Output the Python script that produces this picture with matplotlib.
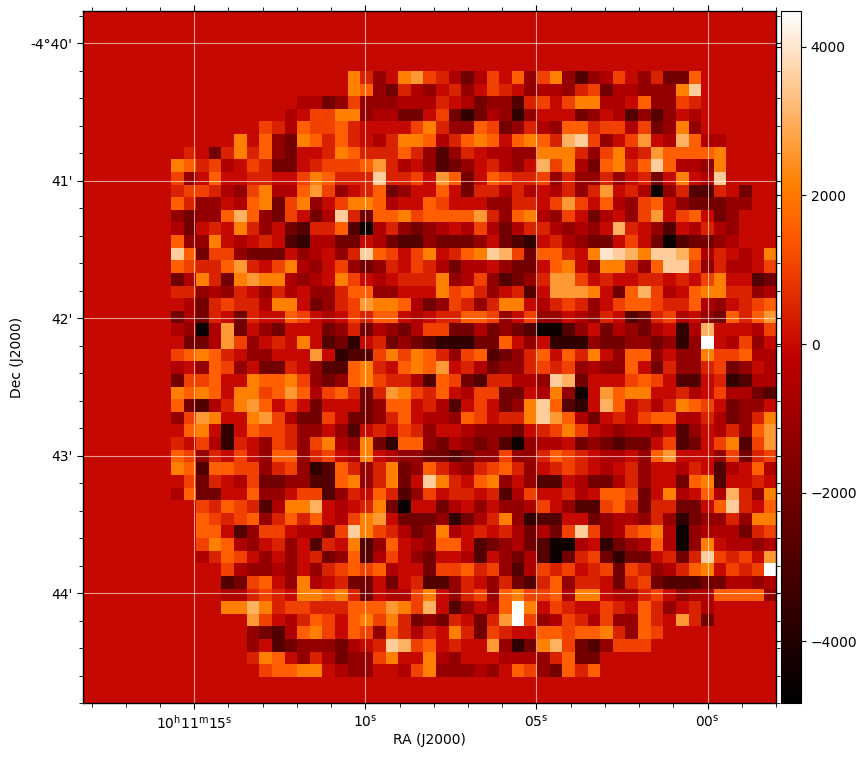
import numpy as np
import matplotlib
matplotlib.use('Agg')
import matplotlib.pyplot as plt
from matplotlib.ticker import MultipleLocator

# flux levels, one letter per map cell
levels = {'a': -4500, 'b': -3600, 'c': -2800, 'd': -2000, 'e': -1200, 'f': -600,
          'g': 0, 'h': 450, 'i': 1000, 'j': 1550, 'k': 2150, 'l': 2600,
          'm': 3050, 'n': 3550, 'o': 4000, 'p': 4450, '.': 0}

# map rows, top to bottom: left half + right half
left_half = [
    '..............khegklihfd', '..............kjedhfeghe', '..........ffdeieeefffhgf',
    '.........fgiikkeffddgidb', '.....ggihfjiijhggggikhee', '.....kgjedkjhjhgfhkkjfhj',
    'ghgdhkhjedgghkjhhhjheceh', 'kjhifgihddghiiijlhfgecde', 'iegjgghhggikjhhhnhhigljd',
    'hiihfeikffjlieghjdeggjgd', 'jheegfjkdikegikkjfggjigg', 'edeejmjedigdfnhdjjkijjjj',
    'fdghgkhegdchhjcafhedefgf', 'jeekgfghgcbffddgfdcceddd', 'njdiiedddgefgehnjigikghj',
    'jihhjlhgikfegiedehgihfdf', 'dfkhdklkkfefgkigfghhhkef', 'hhefehgehfgeehjjeegggkij',
    'gfdhihhfkkgdehilkkjfdeih', 'dfdhgdhggjigfgihjjgfghhj', 'feafldgedgggdehdfedfiidd',
    'gddflieghgkgcdbghdedcbbb', 'ijkjhgeegggl' + 'gbccikikjhei', 'fgejiegddhgeccjkhgjkjlgh',
    'diijggkjjkiedejkihhfcjid', 'kjkjgkkijljfijhdhlkihjgf', 'jdcfhkljgigdgggdejjghfcg',
    'eilkggklifddigddehjgffej', 'gjkgbgjiiheegecghgiheggf', 'hgifbhgeiheikfekdbjjedfe',
    'jiehgigejjehigfkgfeeddcd', 'kjcjjiiehiebcjhehkdejhfe', 'gidhgfiddeeccjkehkdgnkhg',
    'fjddggjeegiicehgjhceighh', '..ihjihcfkkmgfghkdaggdfg', '..jihijehjhjgfiklgdddebd',
    '..jjgceiigffdinkihfdekfg', '..ikjfeghegchgkcejgfejjg', '..fhjigegeghdejcfigedggf',
    '....ifeefegehijijfggdiij', '....cdijgekfghddgdghcceh', '....ffhihgkkjkhdgffikgeh',
    '....kkmkhiihhhjjjlkimgce', '......ligfhjigjkikhdedhg', '......edcfjkigjiejhfhgkh',
    '......egcdeeedfghnmijghg', '......hkjgehfdeeikggkfeg', '......gijjkkgfeeggfikeee',
]
right_half = [
    'figjeikecefigehddj......', 'gihgeffehidffeeekn......', 'deechigikkffgjeeih......',
    'dfebegggdegfcecegf......', 'jidehfejjhiifideke......', 'kjgjkjhmniegilgfmjff....',
    'gffeekkkheikghljjjjk....', 'ghfegmikfdjkhjnjffek....', 'gjihhieheeheghdgkgfn....',
    'hhfhfgfhehlghfaehcchgd..', 'geehhgiligjfeijgedddee..', 'lhejkfeigdfgeilgijgdeg..',
    'ifdfhhfefegmhgecgfhfeg..', 'egdcbghfeddgigdacddefg..', 'knmidjjhgkonmknnmjfhgfgk',
    'fgeddgjkgekkhejnniehffgi', 'iecdehllighgghhghgikggcd', 'heghcglllkgdjmifgjkkhhef',
    'ehkkgfhihegijjihhjfeghij', 'jiegieegfehgcdhifgedjhjl', 'fdedcaacegdfedfgbfmgggfi',
    'ddjgegbbbeddeedebepgfieg', 'jcdehjgjhkgejjegeekiijff', 'fdeehihiefeejgdheehidegf',
    'chhffenmdgggijigccghbcff', 'iiddgfkeagljkkgghfgiffdc', 'igdeknjcbgmjghfhkjigdeeg',
    'ighhknljfdghgijjffhfdehk', 'eeedghikigfeffegcegfhejl', 'decaeffgdedcddgicdgikcil',
    'eeieehjihgffgejlgggeidhi', 'hijheghihgfgheggfhgcfgjf', 'jkegeccgfddfheggdjkcgghg',
    'ghcfigghfgjjidgkfgjfmhek', 'egeefigeccijhdhhddgjnhgj', 'fhkebccggdeffehebdeehekk',
    'hghfdfdiniefijkfaefffdhi', 'cdefdcaafgbdefjfaekgffef', 'cgedfcadhidbddghdhnihigl',
    'hiecfihighidihefhjkgihip', 'gehdchjehhgdhidcccddffef', 'iejkiijfkkgffhigeffjjjje',
    'gfjpkgihggihgjheghf.....', 'dhlpiefihfieejhglhd.....', 'dihggjjijjkheji.........',
    'glebdkmidceiiig.........', 'ggfffehjdd..............', 'fegjiedjhj..............',
]
ra_ticks = [15, 10, 5, 0]
ra_labels = [r'$10^{\mathrm{h}}11^{\mathrm{m}}15^{\mathrm{s}}$', r'$10^{\mathrm{s}}$',
             r'$05^{\mathrm{s}}$', r'$00^{\mathrm{s}}$']
dec_ticks = [40, 41, 42, 43, 44]
dec_labels = ["-4°40'", "41'", "42'", "43'", "44'"]
cbar_ticks = [-4000, -2000, 0, 2000, 4000]


def row_values(text):
    return [levels[c] for c in text]


image = np.array([row_values(a) + row_values(b) for a, b in zip(left_half, right_half)], dtype=float)

fig = plt.figure(figsize=(8.67, 7.57), dpi=100)
ax = fig.add_axes([83 / 867, 54 / 757, 693 / 867, 692 / 757])
cmap = plt.get_cmap('gist_heat')
im = ax.imshow(image, cmap=cmap, vmin=-4833, vmax=4484, interpolation='nearest', aspect='auto',
               extent=(15.687, -2.0, 44.61, 40.206))
ax.set_facecolor(cmap(im.norm(0)))
ax.set_xlim(18.25, -2.0)
ax.set_ylim(44.8, 39.765)

ax.set_xticks(ra_ticks)
ax.set_xticklabels(ra_labels)
ax.set_yticks(dec_ticks)
ax.set_yticklabels(dec_labels)
ax.xaxis.set_minor_locator(MultipleLocator(1))
ax.yaxis.set_minor_locator(MultipleLocator(0.2))
ax.tick_params(which='both', top=True, right=True, direction='out')
ax.tick_params(which='major', length=4)
ax.tick_params(which='minor', length=3)
ax.grid(True, which='major', color='white', alpha=0.6, linewidth=0.8)
for spine in ax.spines.values():
    spine.set_linewidth(1.0)
ax.set_xlabel('RA (J2000)', labelpad=1)
ax.set_ylabel('Dec (J2000)', labelpad=5)

cax = fig.add_axes([781 / 867, 54 / 757, 20 / 867, 692 / 757])
cb = fig.colorbar(im, cax=cax, ticks=cbar_ticks)
cax.tick_params(left=True, right=True)

fig.savefig('out.png', dpi=100)
